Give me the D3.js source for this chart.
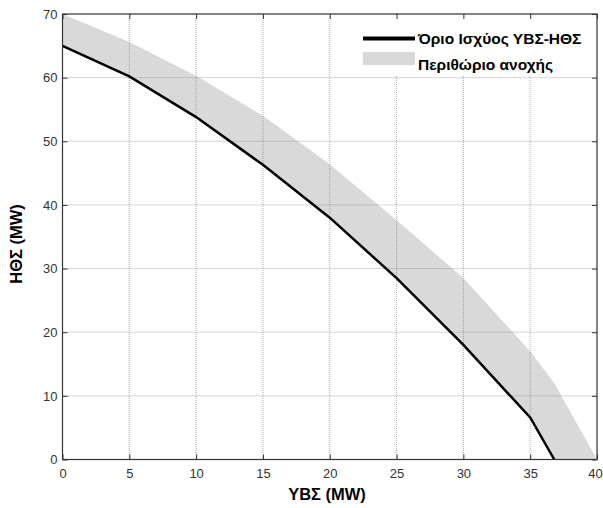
<!DOCTYPE html>
<html>
<head>
<meta charset="utf-8">
<title>ΥΒΣ-ΗΘΣ</title>
<style>
  body { margin: 0; background: #fff; }
  svg { display: block; font-family: "Liberation Sans", Arial, sans-serif; }
</style>
</head>
<body>
<svg width="603" height="508"></svg>
<script src="https://d3js.org/d3.v7.min.js"></script>
<script>
// όριο ισχύος (μαύρη γραμμή)
const limitX = [0, 5, 10, 15, 20, 25, 30, 35, 36.8];
const limitY = [65, 60.2, 53.8, 46.3, 38, 28.5, 18, 6.6, 0];
// άνω όριο περιθωρίου ανοχής
const upperX = [0, 5, 10, 15, 20, 25, 30, 35, 36.8, 40];
const upperY = [70, 65.6, 60.3, 54, 46.4, 37.6, 28.5, 17, 12, 0];

const xTicks = [0, 5, 10, 15, 20, 25, 30, 35, 40];
const yTicks = [0, 10, 20, 30, 40, 50, 60, 70];

const svg = d3.select("svg");
const mLeft = 62.5, mRight = 597, mTop = 14, mBottom = 459.5;

const x = d3.scaleLinear().domain([0, 40]).range([mLeft, mRight]);
const y = d3.scaleLinear().domain([0, 70]).range([mBottom, mTop]);

// band polygon: upper curve then the limit curve backwards
const upper = upperX.map((d, i) => [d, upperY[i]]);
const limit = limitX.map((d, i) => [d, limitY[i]]);
const band = upper.concat(limit.slice().reverse());

svg.append("path")
    .datum(band)
    .attr("fill", "#d9d9d9")
    .attr("stroke", "none")
    .attr("d", d3.line().x(d => x(d[0])).y(d => y(d[1])).curve(d3.curveLinearClosed));

// grid
const grid = svg.append("g")
    .attr("stroke", "#888")
    .attr("stroke-width", 0.7)
    .attr("stroke-dasharray", "1,1");
grid.selectAll(".gx").data(xTicks.slice(1, -1)).join("line")
    .attr("x1", d => x(d)).attr("x2", d => x(d))
    .attr("y1", mTop).attr("y2", mBottom);
grid.selectAll(".gy").data(yTicks.slice(1, -1)).join("line")
    .attr("y1", d => y(d)).attr("y2", d => y(d))
    .attr("x1", mLeft).attr("x2", mRight);

svg.append("path")
    .datum(limit)
    .attr("fill", "none")
    .attr("stroke", "#000")
    .attr("stroke-width", 2.5)
    .attr("d", d3.line().x(d => x(d[0])).y(d => y(d[1])));

// legend (white box over grid)
const lg = svg.append("g");
lg.append("rect")
    .attr("x", 356).attr("y", mTop + 1)
    .attr("width", mRight - 357).attr("height", 61)
    .attr("fill", "#fff");
lg.append("line")
    .attr("x1", 363).attr("x2", 415).attr("y1", 38.5).attr("y2", 38.5)
    .attr("stroke", "#000").attr("stroke-width", 4);
lg.append("rect")
    .attr("x", 363).attr("y", 52).attr("width", 52).attr("height", 13)
    .attr("fill", "#d9d9d9");
lg.append("text").attr("x", 418).attr("y", 44)
    .attr("font-size", 15.5).attr("font-weight", "bold")
    .text("Όριο Ισχύος ΥΒΣ-ΗΘΣ");
lg.append("text").attr("x", 418).attr("y", 69.5)
    .attr("font-size", 15.5).attr("font-weight", "bold")
    .text("Περιθώριο ανοχής");

// axes with inward ticks on all sides
const axisColor = "#333";
function styleAxis(g) {
  g.select(".domain").remove();
  g.selectAll(".tick line").attr("stroke", axisColor);
  g.selectAll(".tick text").attr("fill", "#333")
      .attr("font-size", 13).attr("font-family", "Liberation Sans, Arial, sans-serif");
}
svg.append("g").attr("transform", `translate(0,${mBottom})`)
    .call(d3.axisBottom(x).tickValues(xTicks).tickSize(-5).tickPadding(9))
    .call(styleAxis)
    .call(g => g.selectAll(".tick text").filter(d => d === 40).attr("dx", -2));
svg.append("g").attr("transform", `translate(${mLeft},0)`)
    .call(d3.axisLeft(y).tickValues(yTicks).tickSize(-5).tickPadding(5))
    .call(styleAxis);
svg.append("g").attr("transform", `translate(0,${mTop})`)
    .call(d3.axisTop(x).tickValues(xTicks).tickSize(-5).tickFormat(""))
    .call(styleAxis);
svg.append("g").attr("transform", `translate(${mRight},0)`)
    .call(d3.axisRight(y).tickValues(yTicks).tickSize(-5).tickFormat(""))
    .call(styleAxis);

svg.append("rect")
    .attr("x", mLeft).attr("y", mTop)
    .attr("width", mRight - mLeft).attr("height", mBottom - mTop)
    .attr("fill", "none").attr("stroke", axisColor).attr("stroke-width", 1.2);

svg.append("text")
    .attr("x", 327).attr("y", 500)
    .attr("text-anchor", "middle")
    .attr("font-size", 16.5).attr("font-weight", "bold")
    .text("ΥΒΣ (MW)");
svg.append("text")
    .attr("transform", `translate(22,244) rotate(-90)`)
    .attr("text-anchor", "middle")
    .attr("font-size", 16.5).attr("font-weight", "bold")
    .text("ΗΘΣ (MW)");
</script>
</body>
</html>
